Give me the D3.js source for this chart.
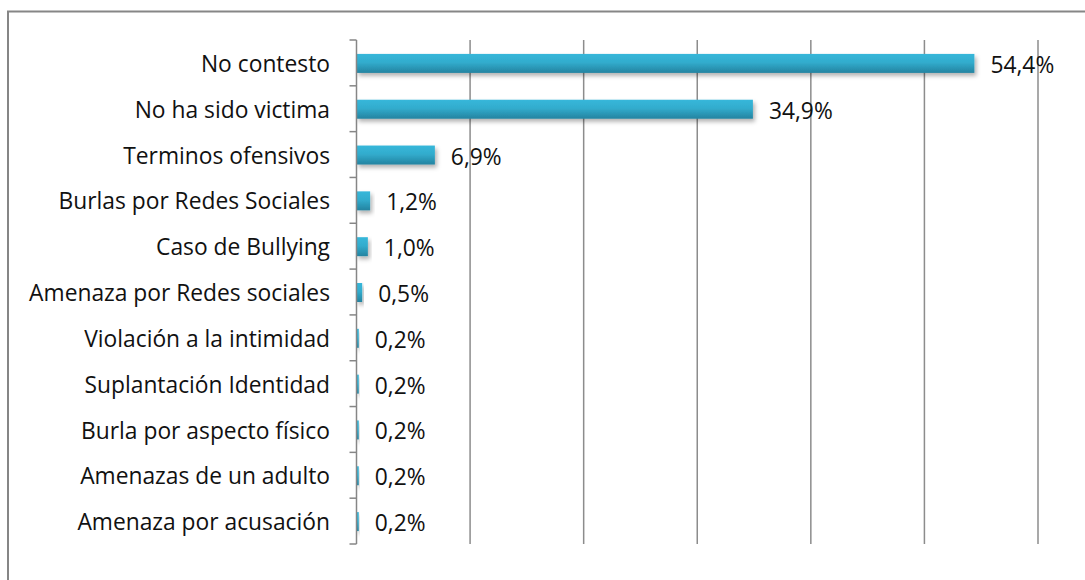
<!DOCTYPE html>
<html>
  <head>
    <meta charset="utf-8" />
    <style>
      body {
        margin: 0;
        background: white;
      }
      text {
        font-family: "Open Sans", Lato, sans-serif;
        font-variant-ligatures: none;
        fill: #111;
      }
    </style>
  </head>
  <body>
    <svg width="1085" height="580"></svg>
    <script src="https://cdn.jsdelivr.net/npm/d3@7"></script>
    <script>
      // data
      let categories = [
        "No contesto",
        "No ha sido victima",
        "Terminos ofensivos",
        "Burlas por Redes Sociales",
        "Caso de Bullying",
        "Amenaza por Redes sociales",
        "Violación a la intimidad",
        "Suplantación Identidad",
        "Burla por aspecto físico",
        "Amenazas de un adulto",
        "Amenaza por acusación",
      ];
      let values = [54.4, 34.9, 6.9, 1.2, 1.0, 0.5, 0.2, 0.2, 0.2, 0.2, 0.2];
      let gridTicks = [10, 20, 30, 40, 50, 60];

      let svg = d3.select("svg");
      let margin = { top: 40, left: 356.5, bottom: 544 };

      let x = d3.scaleLinear().domain([0, 60]).range([margin.left, 1038]);
      let y = d3.scaleBand().domain(categories).range([margin.top, margin.bottom]);

      let defs = svg.append("defs");
      let grad = defs
        .append("linearGradient")
        .attr("id", "barGrad")
        .attr("x1", 0)
        .attr("y1", 0)
        .attr("x2", 0)
        .attr("y2", 1);
      grad.append("stop").attr("offset", "0%").attr("stop-color", "#37b7da");
      grad.append("stop").attr("offset", "45%").attr("stop-color", "#32accd");
      grad.append("stop").attr("offset", "100%").attr("stop-color", "#2483a0");

      let shadow = defs
        .append("filter")
        .attr("id", "shadow")
        .attr("x", "-20%")
        .attr("y", "-40%")
        .attr("width", "150%")
        .attr("height", "200%");
      shadow
        .append("feDropShadow")
        .attr("dx", 2)
        .attr("dy", 3)
        .attr("stdDeviation", 2)
        .attr("flood-color", "#000")
        .attr("flood-opacity", 0.3);

      // outer frame (runs off the right and bottom edges)
      svg
        .append("rect")
        .attr("x", 8)
        .attr("y", 11.5)
        .attr("width", 1200)
        .attr("height", 700)
        .attr("fill", "none")
        .attr("stroke", "#868686")
        .attr("stroke-width", 2);

      // vertical gridlines
      svg
        .append("g")
        .selectAll("line")
        .data(gridTicks)
        .join("line")
        .attr("x1", (d) => x(d))
        .attr("x2", (d) => x(d))
        .attr("y1", margin.top)
        .attr("y2", margin.bottom)
        .attr("stroke", "#8c8c8c")
        .attr("stroke-width", 1.5);

      // bars
      let barH = 19;
      svg
        .append("g")
        .selectAll("rect")
        .data(values)
        .join("rect")
        .attr("x", x(0))
        .attr("y", (d, i) => y(categories[i]) + y.bandwidth() / 2 - barH / 2 + 0.5)
        .attr("width", (d) => x(d) - x(0))
        .attr("height", barH)
        .attr("fill", "url(#barGrad)")
        .attr("filter", "url(#shadow)");

      // value labels
      let fmt = (v) => v.toFixed(1).replace(".", ",") + "%";
      svg
        .append("g")
        .selectAll("text")
        .data(values)
        .join("text")
        .attr("x", (d) => x(d) + 16)
        .attr("y", (d, i) => y(categories[i]) + y.bandwidth() / 2)
        .attr("dy", "0.44em")
        .style("font-size", "22.8px")
        .text(fmt);

      // left axis with ticks between categories
      let axis = svg.append("g");
      axis
        .append("line")
        .attr("x1", x(0))
        .attr("x2", x(0))
        .attr("y1", margin.top)
        .attr("y2", margin.bottom)
        .attr("stroke", "#868686")
        .attr("stroke-width", 1.5);
      let bounds = categories.map((c) => y(c)).concat([margin.bottom]);
      axis
        .selectAll(".tk")
        .data(bounds)
        .join("line")
        .attr("class", "tk")
        .attr("x1", x(0) - 7)
        .attr("x2", x(0))
        .attr("y1", (d) => d)
        .attr("y2", (d) => d)
        .attr("stroke", "#868686")
        .attr("stroke-width", 1.5);

      axis
        .selectAll(".lbl")
        .data(categories)
        .join("text")
        .attr("class", "lbl")
        .attr("x", 330)
        .attr("y", (d) => y(d) + y.bandwidth() / 2)
        .attr("dy", "0.4em")
        .attr("text-anchor", "end")
        .style("font-size", "22.8px")
        .text((d) => d);
    </script>
  </body>
</html>
